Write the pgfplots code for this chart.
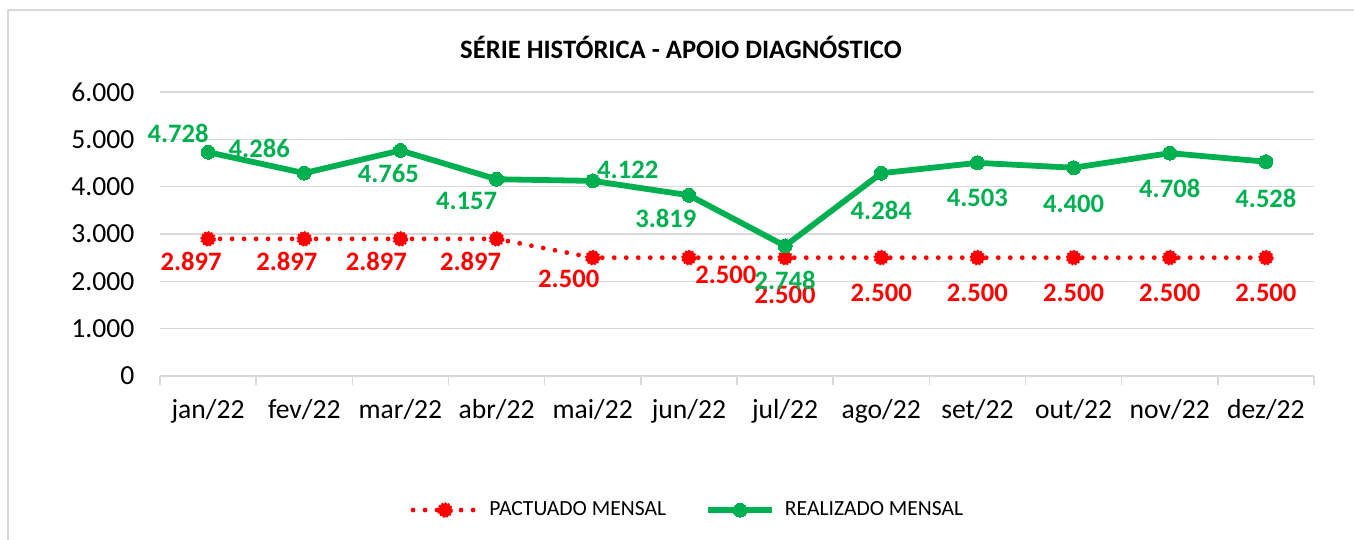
\documentclass[border=0pt]{standalone}
\usepackage{fontspec}
\setmainfont{Carlito}
\usepackage{pgfplots}
\pgfplotsset{compat=1.18}
\usepackage{pgfplotstable}

\definecolor{exgreen}{HTML}{00B050}
\definecolor{exred}{HTML}{FF0000}
\definecolor{gridgray}{HTML}{D9D9D9}

% x, value, label, label shift (pt)
\pgfplotstableread{
x y lab dx dy
0 2897 2.897 -8.5 -11.5
1 2897 2.897 -8.7 -11.5
2 2897 2.897 -12 -11.5
3 2897 2.897 -13 -11.5
4 2500 2.500 -12 -10.5
5 2500 2.500 18.5 -8.5
6 2500 2.500 0 -18.5
7 2500 2.500 0 -17.5
8 2500 2.500 0 -17.5
9 2500 2.500 0 -17.5
10 2500 2.500 0 -17.5
11 2500 2.500 0 -17.5
}\pactuado

\pgfplotstableread{
x y lab dx dy
0 4728 4.728 -15 9.5
1 4286 4.286 -22.5 12.5
2 4765 4.765 -6 -11.5
3 4157 4.157 -15 -11
4 4122 4.122 17.5 5.5
5 3819 3.819 -11.5 -11.5
6 2748 2.748 0 -17
7 4284 4.284 0 -18.5
8 4503 4.503 0 -17.5
9 4400 4.400 0 -18
10 4708 4.708 0 -17.5
11 4528 4.528 0 -18.5
}\realizado

\begin{document}
\begin{tikzpicture}
\useasboundingbox (0,0) rectangle (677pt,270pt);
\draw[gridgray, line width=0.8pt] (4pt,-2pt) -- (4pt,265pt) -- (680pt,265pt);
\node[font=\fontsize{13.3}{15}\selectfont\bfseries] at (340.5pt,246.5pt) {SÉRIE HISTÓRICA - APOIO DIAGNÓSTICO};
\begin{axis}[
    at={(80pt,82pt)}, anchor=south west,
    scale only axis,
    width=577pt, height=142pt,
    xmin=-0.5, xmax=11.5,
    ymin=0, ymax=6000,
    ytick={0,1000,...,6000},
    /pgf/number format/.cd, 1000 sep={.}, assume math mode=true,
    /pgfplots/.cd,
    xtick={0,...,11},
    xticklabels={jan/22,fev/22,mar/22,abr/22,mai/22,jun/22,jul/22,ago/22,set/22,out/22,nov/22,dez/22},
    minor xtick={-0.5,0.5,...,11.5},
    major x tick style={draw=none},
    minor x tick style={draw=gridgray, line width=0.8pt},
    minor tick length=4.5pt,
    tick align=outside,
    ytick style={draw=none},
    axis x line*=bottom,
    axis y line*=left,
    x axis line style={draw=gridgray, line width=0.8pt, -},
    y axis line style={draw=none},
    ymajorgrids,
    grid style={draw=gridgray, line width=0.8pt},
    tick label style={font=\fontsize{13.8}{16}\selectfont},
    xticklabel style={yshift=-4pt},
    yticklabel style={xshift=-5pt},
    clip=false,
    legend columns=2,
    legend style={at={(0.461,-0.472)}, anchor=center, draw=none, fill=none,
        font=\fontsize{10.8}{12}\selectfont,
        nodes={inner xsep=5pt},
        /tikz/every even column/.append style={column sep=14.5pt}},
    legend image code/.code={\draw[mark repeat=2,mark phase=2,#1] plot coordinates {(0pt,0pt) (16pt,0pt) (32pt,0pt)};},
]
\addplot[exred, line width=2.4pt, dash pattern=on 0pt off 6pt, line cap=round,
    mark=*, mark size=3.4pt,
    mark options={solid, fill=exred, draw=exred, line width=1.3pt, dash pattern=on 0pt off 1.7pt, line cap=round},
    point meta=explicit symbolic,
    nodes near coords={\pgfplotspointmeta},
    visualization depends on={\thisrow{dx} \as \dx},
    visualization depends on={\thisrow{dy} \as \dy},
    nodes near coords style={text=exred, anchor=center, xshift=\dx pt, yshift=\dy pt,
        font=\fontsize{13.3}{15}\selectfont\bfseries, solid}]
    table[x=x, y=y, meta=lab] {\pactuado};
\addlegendentry{PACTUADO MENSAL}
\addplot[exgreen, line width=2.9pt, line join=round,
    mark=*, mark size=3.5pt, mark options={solid, fill=exgreen, draw=exgreen, line width=0pt},
    point meta=explicit symbolic,
    nodes near coords={\pgfplotspointmeta},
    visualization depends on={\thisrow{dx} \as \dx},
    visualization depends on={\thisrow{dy} \as \dy},
    nodes near coords style={text=exgreen, anchor=center, xshift=\dx pt, yshift=\dy pt,
        font=\fontsize{13.3}{15}\selectfont\bfseries}]
    table[x=x, y=y, meta=lab] {\realizado};
\addlegendentry{REALIZADO MENSAL}
\end{axis}
\end{tikzpicture}
\end{document}
